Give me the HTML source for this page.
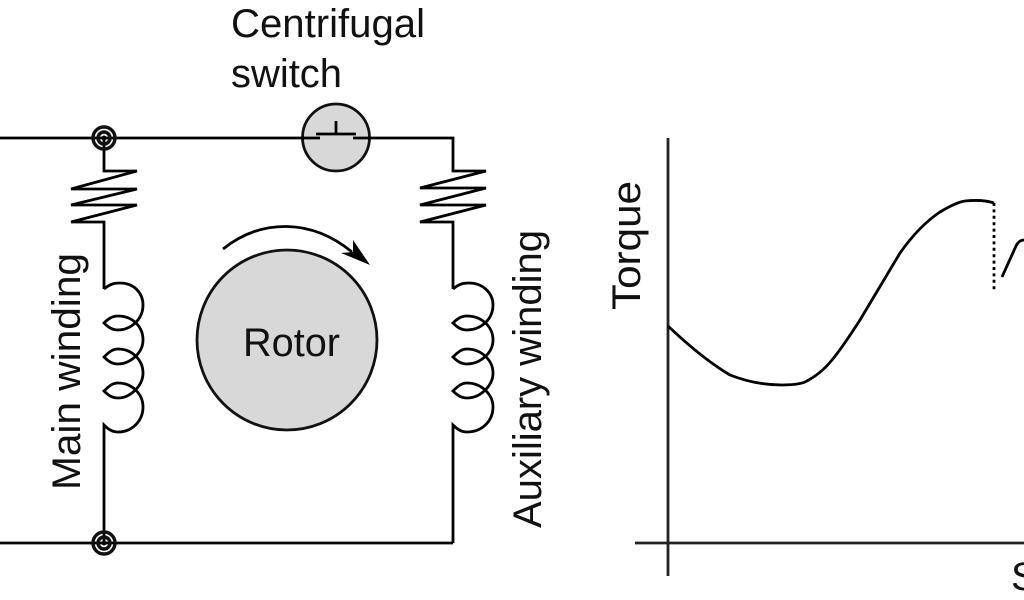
<!DOCTYPE html>
<html><head><meta charset="utf-8"><style>
html,body{margin:0;padding:0;background:#fff}
svg{display:block}
text{font-family:"Liberation Sans",sans-serif;font-size:40px;fill:#111}
</style></head><body>
<svg width="1024" height="600" viewBox="0 0 1024 600" xmlns="http://www.w3.org/2000/svg">
<g fill="none" stroke="#000" stroke-width="2.8" stroke-linejoin="miter">
<circle cx="336" cy="137.5" r="33.5" fill="#d8d8d8" stroke="#111"/>
<circle cx="287" cy="340" r="90" fill="#d8d8d8" stroke="#111"/>
<path d="M0 138H320M353 138H453V171H486L420 188H486L420 205H486L420 222H453V289"/>
<path d="M316 134H356M336 121V134"/>
<path d="M104 138V171H137L71 189H137L71 205H137L71 222H104V289"/>
<path d="M104 289C110 284 114 283 120 283C134 283 143 293 143 305C143 320 130 330 118 330C112 330 108 327 104 323C108 319 112 316 118 316C132 316 143 326 143 340C143 353 130 364 118 364C112 364 108 361 104 357C108 353 112 349 118 349C132 349 143 360 143 373C143 386 130 398 118 398C112 398 108 395 104 391C108 387 112 383 118 383C132 383 143 394 143 407C143 421 132 432 118 432C112 432 108 429 104 425V543"/>
<path d="M453 289C459 284 463 283 469 283C483 283 493 293 493 305C493 320 480 330 467 330C461 330 457 327 453 323C457 319 461 316 467 316C481 316 493 326 493 340C493 353 480 364 467 364C461 364 457 361 453 357C457 353 461 349 467 349C481 349 493 360 493 373C493 386 480 398 467 398C461 398 457 395 453 391C457 387 461 383 467 383C481 383 493 394 493 407C493 421 482 432 467 432C461 432 457 429 453 425V543"/>
<path d="M0 543H453"/>
<path d="M223 249C262 218 312 219 352 252"/>
<path d="M668 138V576M635 543H1024" stroke="#222"/>
<path d="M668 326C688 345 708 362 730 375C748 382 765 385 782 385C792 385 800 384 805 382C815 377 824 370 832 360C842 348 851 334 860 320C873 298 887 275 900 253C912 236 925 222 940 212C950 206 958 202 965 201C975 200 985 200 994 203"/>
<path d="M994 203V290" stroke-dasharray="3 3.4"/>
<path d="M1002 277L1016 246C1018 242 1021 240 1024 240"/>
</g>
<path d="M370 265L353 240L353 252L341 253Z" fill="#000"/>
<g fill="none" stroke="#111" stroke-width="3.4">
<circle cx="104" cy="138" r="11"/><circle cx="104" cy="138" r="6"/>
<circle cx="104" cy="543" r="11"/><circle cx="104" cy="543" r="6"/>
</g>
<circle cx="104" cy="138" r="2.5" fill="#000"/>
<circle cx="104" cy="543" r="2.5" fill="#000"/>
<text x="231" y="37" textLength="194" lengthAdjust="spacingAndGlyphs">Centrifugal</text>
<text x="231" y="87" textLength="111" lengthAdjust="spacingAndGlyphs">switch</text>
<text x="243" y="356" textLength="97" lengthAdjust="spacingAndGlyphs">Rotor</text>
<text transform="translate(80,490) rotate(-90)" textLength="237" lengthAdjust="spacingAndGlyphs">Main winding</text>
<text transform="translate(541,528) rotate(-90)" textLength="298" lengthAdjust="spacingAndGlyphs">Auxiliary winding</text>
<text transform="translate(640,310) rotate(-90)" textLength="129" lengthAdjust="spacingAndGlyphs">Torque</text>
<text x="1011" y="590">S</text>
</svg>
</body></html>
